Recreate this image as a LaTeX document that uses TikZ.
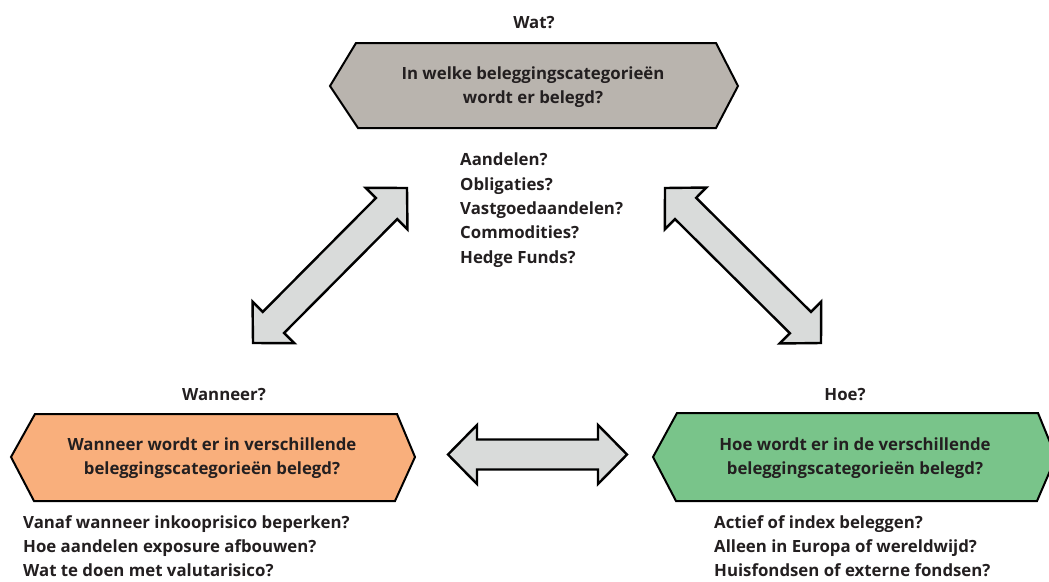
\documentclass[tikz,border=0pt]{standalone}
\usepackage{fontspec}
\setmainfont{Open Sans}
\usetikzlibrary{calc}
\definecolor{txt}{HTML}{231F20}
\definecolor{hexgray}{HTML}{B9B4AE}
\definecolor{hexorange}{HTML}{F9AF7C}
\definecolor{hexgreen}{HTML}{79C48A}
\definecolor{arrfill}{HTML}{D9DBDA}
\newcommand{\dblarr}[2]{%
  \draw[arrowbox] (#1)
    -- ($(#1)!29pt!(#2)!29.5pt!90:(#2)$)
    -- ($(#1)!29pt!(#2)!15pt!90:(#2)$)
    -- ($(#2)!29pt!(#1)!15pt!-90:(#1)$)
    -- ($(#2)!29pt!(#1)!29.5pt!-90:(#1)$)
    -- (#2)
    -- ($(#2)!29pt!(#1)!29.5pt!90:(#1)$)
    -- ($(#2)!29pt!(#1)!15pt!90:(#1)$)
    -- ($(#1)!29pt!(#2)!15pt!-90:(#2)$)
    -- ($(#1)!29pt!(#2)!29.5pt!-90:(#2)$)
    -- cycle;}
\begin{document}
\begin{tikzpicture}[x=1pt,y=-1pt,
  hexbox/.style={draw=black,line width=2pt,line join=miter},
  arrowbox/.style={draw=black,fill=arrfill,line width=2.4pt,line join=miter},
  title/.style={font=\fontsize{16.8}{24.5}\selectfont\bfseries,text=txt,inner sep=0pt},
  hextext/.style={font=\fontsize{16.8}{24.5}\selectfont\bfseries,text=txt,align=center,inner sep=0pt},
  listtext/.style={font=\fontsize{16.8}{24.3}\selectfont\bfseries,text=txt,align=left,inner sep=0pt,anchor=north west}]
\clip (0,0) rectangle (1049,581);
\fill[white] (0,0) rectangle (1049,581);
% hexagons
\draw[hexbox,fill=hexgray] (330,86) -- (356,43) -- (716,43) -- (738,86) -- (716,128) -- (358,128) -- cycle;
\draw[hexbox,fill=hexorange] (11,457) -- (35,414) -- (397,414) -- (415,457) -- (395,501) -- (34,501) -- cycle;
\draw[hexbox,fill=hexgreen] (653,457) -- (677,413) -- (1038,413) -- (1056,457) -- (1037,501) -- (676,501) -- cycle;
% titles
\node[title] (wat) at (534,23) {Wat?};
\node[title] (wanneer) at (224,395) {Wanneer?};
\node[title] (hoe) at (845,395) {Hoe?};
% hexagon texts
\node[hextext] (q1) at (533,87) {In welke beleggingscategorieën\\wordt er belegd?};
\node[hextext] (q2) at (212,458) {Wanneer wordt er in verschillende\\beleggingscategorieën belegd?};
\node[hextext] (q3) at (855,458) {Hoe wordt er in de verschillende\\beleggingscategorieën belegd?};
% lists
\node[listtext] (l1) at (460,153) {Aandelen?\\Obligaties?\\Vastgoedaandelen?\\Commodities?\\Hedge Funds?};
\node[listtext] (l2) at (23,515) {Vanaf wanneer inkooprisico beperken?\\Hoe aandelen exposure afbouwen?\\Wat te doen met valutarisico?};
\node[listtext] (l3) at (714,515) {Actief of index beleggen?\\Alleen in Europa of wereldwijd?\\Huisfondsen of externe fondsen?};
% arrows
\coordinate (la) at (253,343);
\coordinate (lb) at (407,188);
\coordinate (ra) at (665,188);
\coordinate (rb) at (821,343);
\coordinate (ha) at (448,454.5);
\coordinate (hb) at (627,454.5);
\dblarr{la}{lb}
\dblarr{ra}{rb}
\dblarr{ha}{hb}
\end{tikzpicture}
\end{document}
